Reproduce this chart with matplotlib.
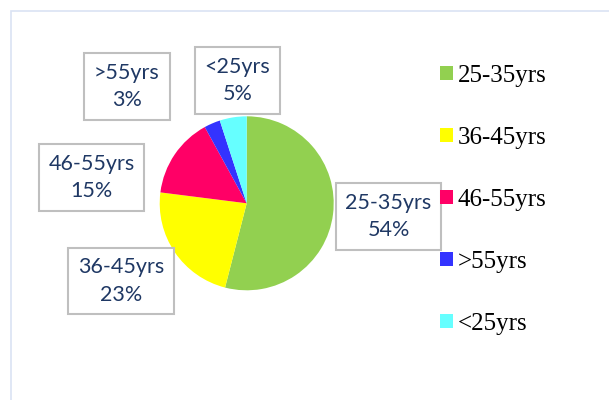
import matplotlib.pyplot as plt
from matplotlib.patches import Rectangle

groups = ['25-35yrs', '36-45yrs', '46-55yrs', '>55yrs', '<25yrs']
shares = [54, 23, 15, 3, 5]
colors = ['#92D050', '#FFFF00', '#FF0066', '#3333FF', '#66FFFF']

W, H = 609, 400
fig = plt.figure(figsize=(W / 100, H / 100), dpi=100)

# light chart-area border (runs off the right/bottom edge)
fig.patches.append(Rectangle((11 / W, -0.1), 1.2, (H - 11) / H + 0.1,
                             transform=fig.transFigure, fill=False,
                             edgecolor='#DAE3F3', linewidth=1.2))

# pie, center (247, 203) px from top-left, radius 87 px
cx, cy, r = 246.7, 203.3, 87
ax = fig.add_axes([(cx - r) / W, (H - cy - r) / H, 2 * r / W, 2 * r / H])
wedges, _ = ax.pie(shares, colors=colors, startangle=90, counterclock=False,
                   wedgeprops=dict(linewidth=0))
ax.set_xlim(-1, 1)
ax.set_ylim(-1, 1)
ax.set_aspect('auto')
ax.axis('off')

# data label boxes (centers in px from top-left)
label_pos = [(388.5, 216.5), (121, 281), (91.5, 177.5), (127, 86.5), (237.5, 80.5)]
for g, s, (x, y) in zip(groups, shares, label_pos):
    fig.text(x / W, 1 - y / H, f'{g}\n{s}%', ha='center', va='center',
             fontsize=15.5, family=['Lato', 'DejaVu Sans'], color='#1F3864',
             linespacing=1.45,
             bbox=dict(boxstyle='square,pad=0.45', facecolor='white',
                       edgecolor='#BFBFBF', linewidth=1.5))

leg = fig.legend(wedges, groups, loc='upper left',
                 bbox_to_anchor=(440 / W, 1 - 65 / H), frameon=False,
                 prop={'family': 'Liberation Serif', 'size': 18},
                 handlelength=0.5, handleheight=0.5, handletextpad=0.2,
                 labelspacing=1.6, borderpad=0, borderaxespad=0)

fig.savefig('out.png', dpi=100)
